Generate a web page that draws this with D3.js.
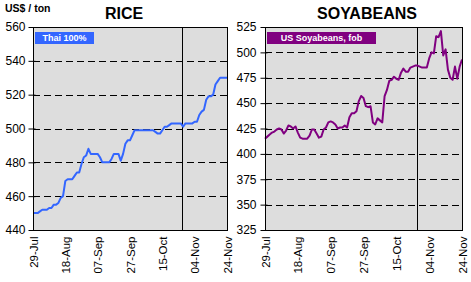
<!DOCTYPE html>
<html>
<head>
<meta charset="utf-8">
<script src="https://cdn.jsdelivr.net/npm/d3@7"></script>
<style>
  body { margin: 0; background: #fff; }
  svg { display: block; font-family: Arial, "Liberation Sans", sans-serif; }
</style>
</head>
<body>
<div id="chart"></div>
<script>
// weekday series, 29-Jul .. 24-Nov (85 trading days)
const tickLabels = ["29-Jul", "18-Aug", "07-Sep", "27-Sep", "15-Oct", "04-Nov", "24-Nov"];
const tickStep = 14;
const markerIndex = 64.7;

const rice = [
  450, 450, 450, 451, 452, 452, 452, 453, 453, 455,
  455, 456, 459, 460, 469, 470, 470, 470, 472, 474,
  474, 479, 483, 484, 488, 485, 485, 485, 485, 483,
  480, 480, 480, 480, 482, 485, 485, 485, 481, 485,
  491, 493, 493, 496, 499, 499, 499, 499, 499, 499,
  499, 499, 499, 498, 497, 497, 499, 501, 501, 502,
  503, 503, 503, 503, 503, 501, 503, 503, 503, 503,
  504, 504, 508, 510, 511, 517, 519, 519, 520, 526,
  528, 530, 530, 530, 530
];

const soy = [
  415, 417, 419, 421, 422, 424, 425, 424, 420, 423,
  428, 427, 425, 427, 421, 416, 415, 415, 415, 418,
  424, 424, 420, 416, 417, 424, 426, 431, 432, 431,
  429, 425, 426, 426, 428, 426, 436, 440, 440, 442,
  452, 457, 455, 447, 446, 447, 431, 429, 435, 433,
  431, 457, 463, 472, 473, 476, 474, 473, 480, 484,
  481, 481, 485, 486, 487, 487, 486, 485, 485, 485,
  494, 500, 499, 516, 515, 521, 497, 503, 483, 475,
  473, 486, 474, 486, 493
];

const riceTicks = [440, 460, 480, 500, 520, 540, 560];
const soyTicks = [325, 350, 375, 400, 425, 450, 475, 500, 525];

const W = 471, H = 282;
const svg = d3.select("#chart").append("svg")
  .attr("width", W)
  .attr("height", H);

svg.append("text")
  .attr("x", 5).attr("y", 12)
  .attr("font-size", 10.5).attr("font-weight", "bold")
  .text("US$ / ton");

function drawPanel(opt) {
  let left = opt.left, top = 27, w = opt.width, h = 203;
  let g = svg.append("g").attr("transform", `translate(${left},${top})`);

  let x = d3.scaleLinear().domain([0, opt.values.length - 1]).range([0, w]);
  let y = d3.scaleLinear().domain(d3.extent(opt.ticks)).range([h, 0]);

  g.append("rect")
    .attr("width", w).attr("height", h)
    .attr("fill", "#dddddd");

  g.selectAll(".grid")
    .data(opt.ticks.slice(1, -1))
    .enter().append("line")
    .attr("class", "grid")
    .attr("x1", 0).attr("x2", w)
    .attr("y1", d => Math.round(y(d)) + 0.5)
    .attr("y2", d => Math.round(y(d)) + 0.5)
    .attr("stroke", "#000")
    .attr("stroke-dasharray", "7,4");

  g.append("line")
    .attr("x1", Math.round(x(markerIndex)) + 0.5)
    .attr("x2", Math.round(x(markerIndex)) + 0.5)
    .attr("y1", 0).attr("y2", h)
    .attr("stroke", "#000");

  g.append("path")
    .datum(opt.values)
    .attr("fill", "none")
    .attr("stroke", opt.color)
    .attr("stroke-width", 2)
    .attr("stroke-linejoin", "round")
    .attr("d", d3.line().x((d, i) => x(i)).y(d => y(d)));

  g.append("rect")
    .attr("x", 0.5).attr("y", 0.5)
    .attr("width", w).attr("height", h)
    .attr("fill", "none")
    .attr("stroke", "#000");

  // y axis
  let ya = g.append("g")
    .attr("transform", "translate(0.5,0)")
    .call(d3.axisLeft(y).tickValues(opt.ticks).tickSize(5).tickPadding(opt.pad));
  ya.select(".domain").remove();
  ya.selectAll(".tick line").attr("x1", 2).attr("stroke", "#000");
  ya.selectAll("text")
    .attr("font-size", 12)
    .attr("font-family", "Arial, 'Liberation Sans', sans-serif")
    .attr("fill", "#000");

  // x axis
  let xa = g.append("g")
    .attr("transform", `translate(0,${h + 0.5})`)
    .call(d3.axisBottom(x)
      .tickValues(tickLabels.map((d, i) => i * tickStep))
      .tickFormat((d, i) => tickLabels[i])
      .tickSize(0));
  xa.select(".domain").remove();
  xa.selectAll("text")
    .attr("font-size", 11.5)
    .attr("font-family", "Arial, 'Liberation Sans', sans-serif")
    .attr("fill", "#000")
    .attr("transform", "rotate(-90)")
    .attr("text-anchor", "end")
    .attr("dy", "0.35em")
    .attr("y", 0)
    .attr("x", -6);

  // legend box
  g.append("rect")
    .attr("x", opt.legX).attr("y", 5)
    .attr("width", opt.legW).attr("height", 12)
    .attr("fill", opt.color);
  g.append("text")
    .attr("x", opt.legX + opt.legW / 2).attr("y", 14)
    .attr("text-anchor", "middle")
    .attr("font-size", 9).attr("font-weight", "bold")
    .attr("fill", "#fff")
    .text(opt.legend);

  svg.append("text")
    .attr("x", opt.titleX).attr("y", 19)
    .attr("text-anchor", "middle")
    .attr("font-size", 16).attr("font-weight", "bold")
    .text(opt.title);
}

drawPanel({
  left: 33, width: 194, values: rice, ticks: riceTicks, pad: 3,
  color: "#3366ff", legend: "Thai 100%", legX: 2, legW: 59,
  title: "RICE", titleX: 124
});

drawPanel({
  left: 265, width: 197, values: soy, ticks: soyTicks, pad: 4,
  color: "#800080", legend: "US Soyabeans, fob", legX: 2, legW: 109,
  title: "SOYABEANS", titleX: 367
});
</script>
</body>
</html>
